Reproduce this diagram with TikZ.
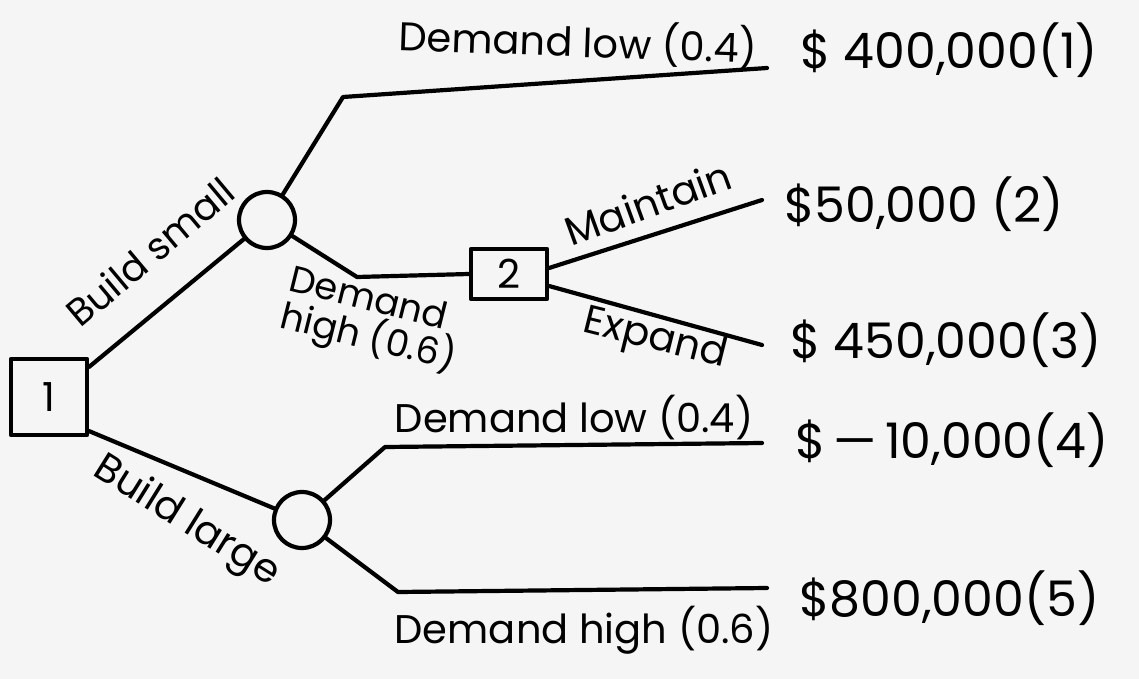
\documentclass[tikz,border=0pt]{standalone}
\usepackage{fontspec}
\setmainfont{Poppins}
\begin{document}
\begin{tikzpicture}[x=1pt,y=-1pt,
  every path/.style={line width=4.2pt,line join=round,line cap=round},
  decbox/.style={draw,line width=4.2pt,minimum width=76pt,minimum height=50pt,inner sep=0pt,font=\fontsize{40}{44}\selectfont},
  chance/.style={draw,circle,line width=4.2pt,minimum size=56pt,inner sep=0pt},
  lbl/.style={font=\fontsize{40}{42}\selectfont,inner sep=0pt},
  val/.style={font=\fontsize{49}{52}\selectfont,inner sep=0pt,anchor=west}]
\useasboundingbox[fill=white!96!black] (0,0) rectangle (1139,679);
% decision and chance nodes
\node[decbox,minimum height=76pt] (d1) at (49,397) {1};
\node[decbox] (d2) at (509,274) {2};
\node[chance] (c1) at (267,220) {};
\node[chance] (c2) at (302,520) {};
% bend points and free ends
\coordinate (t1) at (343,97);
\coordinate (e1) at (767,68);
\coordinate (t2) at (357,277);
\coordinate (e2) at (762,200);
\coordinate (e3) at (762,345);
\coordinate (t4) at (385,447);
\coordinate (e4) at (762,443);
\coordinate (t5) at (398,592);
\coordinate (e5) at (767,588);
\coordinate (d1a) at ([yshift=-10pt]d1.north east);
\coordinate (d1b) at ([yshift=6pt]d1.south east);
\coordinate (d2a) at ([yshift=6pt]d2.east);
\coordinate (d2b) at ([yshift=-12pt]d2.east);
% connectors
\draw (d1a) -- (c1);
\draw (d1b) -- (c2);
\draw (c1) -- (t1) -- (e1);
\draw (c1) -- (t2) -- (d2.west);
\draw (d2a) -- (e2);
\draw (d2b) -- (e3);
\draw (c2) -- (t4) -- (e4);
\draw (c2) -- (t5) -- (e5);
% branch labels
\node[lbl,font=\fontsize{38}{40}\selectfont,rotate=40] (bs) at (150,252) {Build small};
\node[lbl,rotate=-32] (bl) at (186,522) {Build large};
\node[lbl,rotate=-2] (dl1) at (578,42) {Demand low (0.4)};
\node[lbl,font=\fontsize{37}{38}\selectfont,rotate=-14,align=left] (dh1) at (372,322) {Demand\\high (0.6)};
\node[lbl,rotate=20] (mt) at (648,203) {Maintain};
\node[lbl,rotate=-14] (ex) at (655,340) {Expand};
\node[lbl] (dl2) at (574,418) {Demand low (0.4)};
\node[lbl] (dh2) at (584,630) {Demand high (0.6)};
% payoffs
\node[val] (v1) at (798,50) {\$ 400,000(1)};
\node[val] (v2) at (782,204) {\$50,000 (2)};
\node[val] (v3) at (788,340) {\$ 450,000(3)};
\node[val] (v4) at (793,440) {\$\,—\,10,000(4)};
\node[val] (v5) at (797,598) {\$800,000(5)};
\end{tikzpicture}
\end{document}
